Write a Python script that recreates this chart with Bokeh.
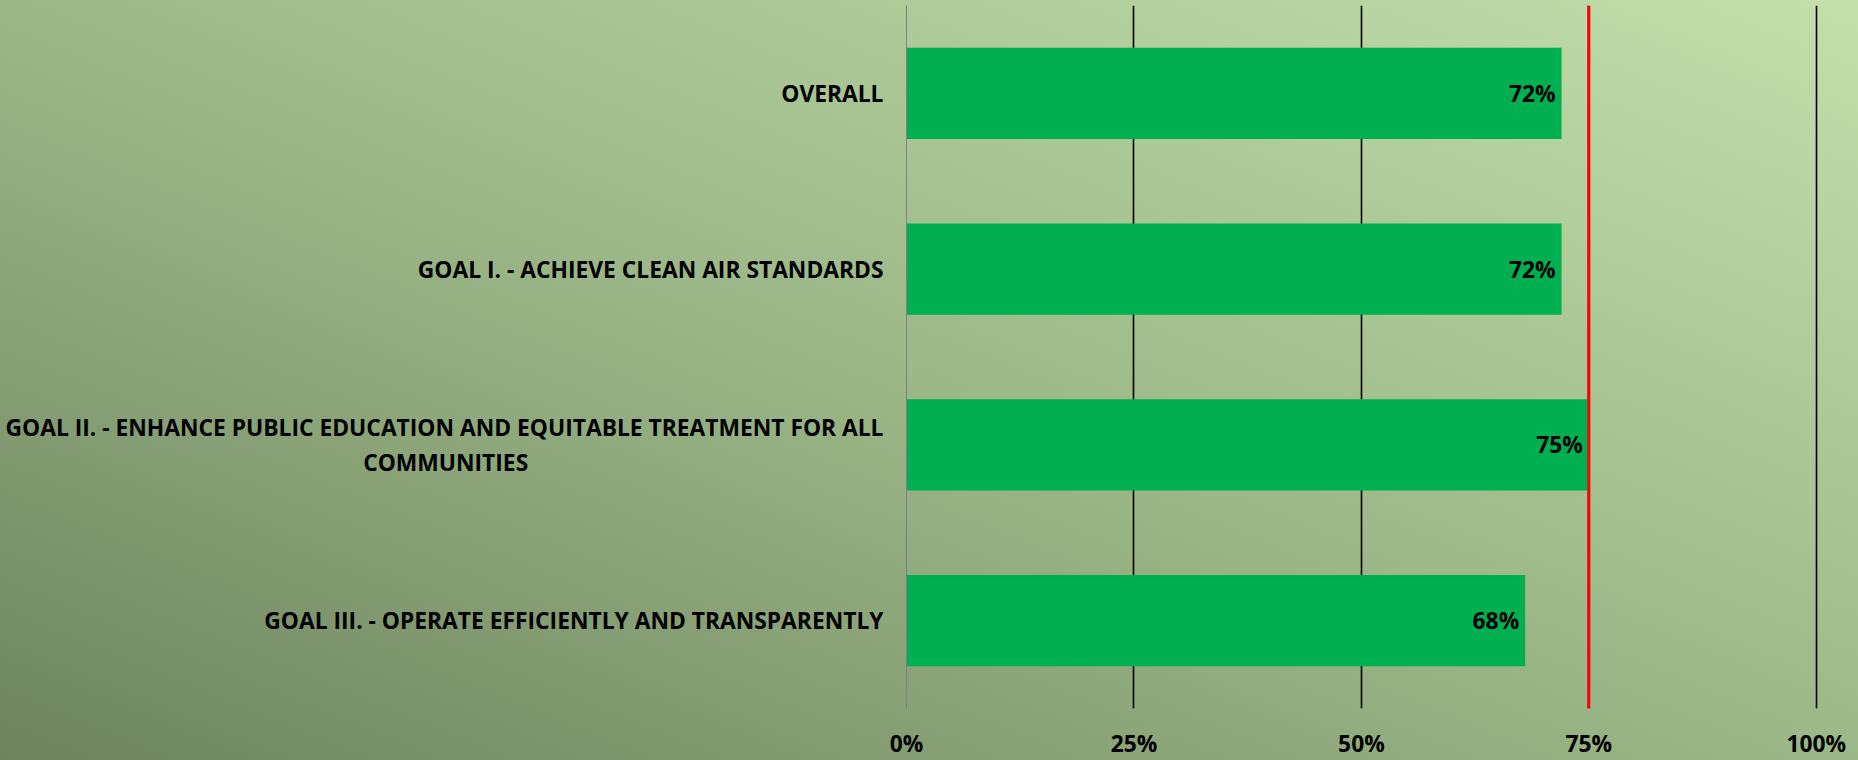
from bokeh.plotting import figure
from bokeh.models import ColumnDataSource, FactorRange, Range1d, Span, FixedTicker, NumeralTickFormatter
from bokeh.core.properties import value
from bokeh.embed import file_html
from bokeh.resources import INLINE

# ---- data ----
# category labels as shown on the axis (long one wrapped, second line centred under the first)
categories = [
    "OVERALL",
    "GOAL I. - ACHIEVE CLEAN AIR STANDARDS",
    "GOAL II. - ENHANCE PUBLIC EDUCATION AND EQUITABLE TREATMENT FOR ALL\nCOMMUNITIES" + "\u00a0" * 60,
    "GOAL III. - OPERATE EFFICIENTLY AND TRANSPARENTLY",
]
scores = [0.72, 0.72, 0.75, 0.68]
score_labels = ["72%", "72%", "75%", "68%"]
target = 0.75
x_ticks = [0, 0.25, 0.5, 0.75, 1.0]

FONT = "Open Sans"
FS = "22.8px"

src = ColumnDataSource(dict(cat=categories, score=scores, label=score_labels))

p = figure(
    y_range=FactorRange(*reversed(categories)),
    x_range=Range1d(0, 1.02),
    frame_width=928, frame_height=703,
    min_border_left=906, min_border_right=24, min_border_top=5, min_border_bottom=52,
    output_backend="svg", toolbar_location=None,
    background_fill_color=None, border_fill_color=None,
    styles={"position": "fixed", "top": "0px", "left": "0px",
            "background": "linear-gradient(to top right, #6d845e 0%, #9cb888 50%, #c3dfac 100%)"},
)
p.outline_line_color = None

p.hbar(y="cat", right="score", left=0, height=0.52, source=src,
       fill_color="#00b050", line_color=None)

p.text(x="score", y="cat", text="label", source=src,
       text_align="right", text_baseline="middle", x_offset=-6,
       text_font=value(FONT), text_font_style="bold", text_font_size=FS, text_color="black")

p.add_layout(Span(location=target, dimension="height", line_color="#ff0000", line_width=3))

# grids
p.ygrid.grid_line_color = None
p.xgrid.ticker = FixedTicker(ticks=[t for t in x_ticks if t > 0])
p.xgrid.grid_line_color = "black"
p.xgrid.grid_line_width = 1.6

# x axis
xa = p.xaxis[0]
xa.ticker = FixedTicker(ticks=x_ticks)
xa.formatter = NumeralTickFormatter(format="0%")
xa.axis_line_color = None
xa.major_tick_line_color = None
xa.minor_tick_line_color = None
xa.major_label_standoff = 13
xa.major_label_text_font = FONT
xa.major_label_text_font_style = "bold"
xa.major_label_text_font_size = FS
xa.major_label_text_color = "black"

# y axis
ya = p.yaxis[0]
ya.axis_line_color = "#7f7f7f"
ya.axis_line_width = 1
ya.major_tick_line_color = None
ya.minor_tick_line_color = None
ya.major_tick_out = 0
ya.major_tick_in = 0
ya.major_label_standoff = 23
ya.major_label_text_font = FONT
ya.major_label_text_font_style = "bold"
ya.major_label_text_font_size = FS
ya.major_label_text_line_height = 1.12
ya.major_label_text_color = "black"

open("out.html", "w").write(file_html(p, INLINE))
